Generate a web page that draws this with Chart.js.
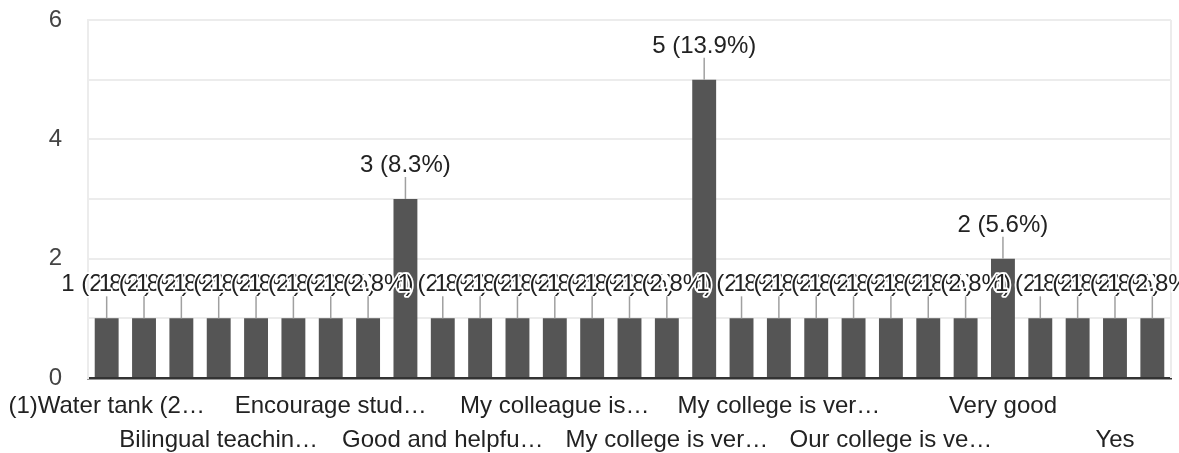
<!DOCTYPE html>
<html><head><meta charset="utf-8">
<script src="https://cdn.jsdelivr.net/npm/chart.js@4"></script>
<style>html,body{margin:0;padding:0;background:#fff;overflow:hidden}#wrap{width:1179px;height:453px;position:relative}</style>
</head><body><div id="wrap"><canvas id="c"></canvas></div>
<script>
const categories = [
  "(1)Water tank (2…", "All facilities are good", "Best",
  "Bilingual teachin…", "College campus is clean", "Digital classrooms",
  "Encourage stud…", "Excellent", "Good",
  "Good and helpfu…", "Good infrastructure", "It is good",
  "My colleague is…", "My colleagues are helpful", "My college is good",
  "My college is ver…", "My college is very good", "My college is very nice",
  "My college is ver…", "Nice", "No",
  "Our college is ve…", "Satisfied", "Teaching is good",
  "Very good", "Very nice", "Well",
  "Yes", "Yes, it is good"
];
const counts = [1,1,1,1,1,1,1,1,3,1,1,1,1,1,1,1,5,1,1,1,1,1,1,1,2,1,1,1,1];
const yTickLabels = [0, 2, 4, 6];
const total = counts.reduce((a, b) => a + b, 0);

const FONT = '"Liberation Sans", Arial, sans-serif';

const framePlugin = {
  id: 'frame',
  beforeDatasetsDraw(chart) {
    const {ctx, chartArea} = chart;
    ctx.save();
    ctx.strokeStyle = '#ececec';
    ctx.lineWidth = 2;
    ctx.beginPath();
    ctx.moveTo(chartArea.right, chartArea.top);
    ctx.lineTo(chartArea.right, chartArea.bottom);
    ctx.stroke();
    ctx.restore();
  }
};

const labelPlugin = {
  id: 'barLabels',
  afterDraw(chart) {
    const ctx = chart.ctx;
    const meta = chart.getDatasetMeta(0);
    ctx.save();
    ctx.font = '24px ' + FONT;
    ctx.textAlign = 'center';
    ctx.textBaseline = 'alphabetic';
    ctx.lineJoin = 'round';
    meta.data.forEach((bar, i) => {
      const v = counts[i];
      const txt = v + ' (' + (v / total * 100).toFixed(1) + '%)';
      ctx.strokeStyle = '#a0a0a0';
      ctx.lineWidth = 1.5;
      ctx.beginPath();
      ctx.moveTo(bar.x, bar.y);
      ctx.lineTo(bar.x, bar.y - 22);
      ctx.stroke();
      ctx.strokeStyle = '#ffffff';
      ctx.lineWidth = 3.5;
      ctx.strokeText(txt, bar.x, bar.y - 27);
      ctx.fillStyle = '#222222';
      ctx.fillText(txt, bar.x, bar.y - 27);
    });
    ctx.restore();
  }
};

new Chart(document.getElementById('c'), {
  type: 'bar',
  data: {
    labels: categories,
    datasets: [{
      data: counts,
      backgroundColor: '#555555',
      borderWidth: 0,
      barPercentage: 0.64,
      categoryPercentage: 1.0
    }]
  },
  options: {
    responsive: true,
    maintainAspectRatio: false,
    animation: false,
    devicePixelRatio: 1,
    layout: {padding: {top: 20, right: 8, left: 0, bottom: 0}},
    plugins: {legend: {display: false}, tooltip: {enabled: false}},
    scales: {
      x: {
        z: 1,
        grid: {display: false, drawTicks: false},
        border: {display: true, color: '#333333', width: 2.5},
        afterFit(s) { s.height = 75; s.paddingLeft = 0; s.paddingRight = 0; },
        ticks: {
          autoSkip: false, maxRotation: 0, minRotation: 0, padding: 11,
          color: '#222222',
          font: {family: FONT, size: 24, lineHeight: 1.42},
          callback(value, index) {
            if (index % 3 !== 0) return '';
            const t = categories[index];
            return (index / 3) % 2 === 0 ? t : ['', t];
          }
        }
      },
      y: {
        min: 0, max: 6,
        afterFit(s) { s.width = 88; s.paddingTop = 0; s.paddingBottom = 0; },
        grid: {
          drawTicks: false,
          color: (c) => c.tick && c.tick.value === 0 ? 'rgba(0,0,0,0)' : '#ececec',
          lineWidth: 2
        },
        border: {display: true, color: '#ececec', width: 2},
        ticks: {
          stepSize: 1, padding: 26, color: '#444444',
          font: {family: FONT, size: 24},
          callback(value) { return yTickLabels.includes(value) ? String(value) : ''; }
        }
      }
    }
  },
  plugins: [framePlugin, labelPlugin]
});
</script>
</body></html>
